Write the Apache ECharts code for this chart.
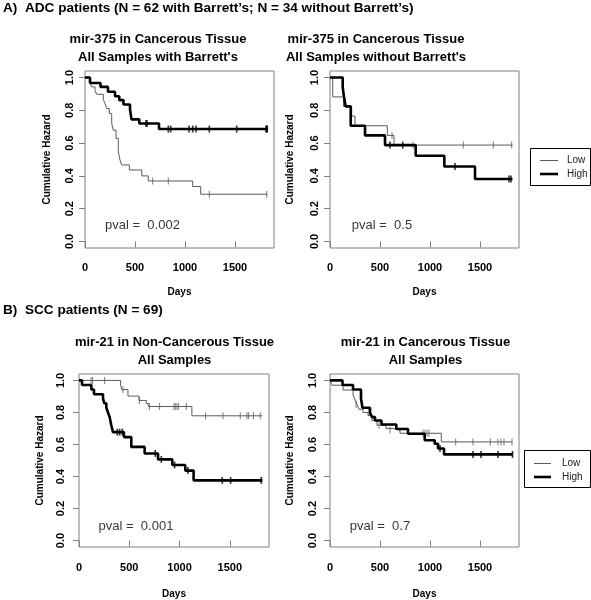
<!DOCTYPE html>
<html><head><meta charset="utf-8">
<script src="https://cdn.jsdelivr.net/npm/echarts@6/dist/echarts.min.js"></script>
<style>html,body{margin:0;padding:0;background:#fff}#c{width:591px;height:600px}</style>
</head><body><div id="c"></div>
<script>
// ---------- data ----------
const xTicks = [0, 500, 1000, 1500];
const yTicks = [0, 0.2, 0.4, 0.6, 0.8, 1.0];
const headerA = "A)  ADC patients (N = 62 with Barrett\u2019s; N = 34 without Barrett\u2019s)";
const headerB = "B)  SCC patients (N = 69)";
const titles = [
  ["mir-375 in Cancerous Tissue", "All Samples with Barrett's"],
  ["mir-375 in Cancerous Tissue", "All Samples without Barrett's"],
  ["mir-21 in Non-Cancerous Tissue", "All Samples"],
  ["mir-21 in Cancerous Tissue", "All Samples"]
];
const pvals = ["pval =  0.002", "pval =  0.5", "pval =  0.001", "pval =  0.7"];
const pvalX = [575, 520, 567, 500];
const pvalY = [0.10, 0.10, 0.088, 0.088];

// Panel 1
const p1LowT = [0, 50, 67, 100, 117, 183, 200, 217, 243, 267, 283, 310, 333, 350, 367, 443, 567, 633, 1077, 1157, 1825];
const p1LowS = [1, 0.967, 0.943, 0.92, 0.898, 0.866, 0.841, 0.811, 0.781, 0.72, 0.679, 0.629, 0.548, 0.497, 0.467, 0.436, 0.40, 0.369, 0.335, 0.288, 0.288];
const p1LowCensT = [677, 833, 1243, 1817];
const p1LowCensS = [0.369, 0.369, 0.288, 0.288];
const p1HighT = [0, 50, 155, 230, 300, 343, 385, 450, 465, 543, 740, 1825];
const p1HighS = [1, 0.967, 0.943, 0.913, 0.886, 0.862, 0.836, 0.805, 0.745, 0.72, 0.686, 0.686];
const p1HighCensT = [610, 620, 833, 857, 1040, 1077, 1110, 1243, 1517, 1810, 1817, 1823];
const p1HighCensS = [0.72, 0.72, 0.686, 0.686, 0.686, 0.686, 0.686, 0.686, 0.686, 0.686, 0.686, 0.686];

// Panel 2
const p2LowT = [0, 27, 135, 217, 250, 573, 640, 1825];
const p2LowS = [1, 0.882, 0.824, 0.765, 0.706, 0.647, 0.588, 0.588];
const p2LowCensT = [620, 830, 1333, 1633, 1817];
const p2LowCensS = [0.647, 0.588, 0.588, 0.588, 0.588];
const p2HighT = [0, 127, 140, 157, 207, 350, 550, 857, 1143, 1450, 1825];
const p2HighS = [1, 0.941, 0.882, 0.824, 0.706, 0.647, 0.588, 0.523, 0.457, 0.381, 0.381];
const p2HighCensT = [600, 727, 1250, 1790, 1810];
const p2HighCensS = [0.588, 0.588, 0.457, 0.381, 0.381];

// Panel 3
const p3LowT = [0, 414, 425, 487, 597, 670, 690, 1123, 1825];
const p3LowS = [1, 0.97, 0.943, 0.902, 0.875, 0.855, 0.837, 0.779, 0.779];
const p3LowCensT = [120, 135, 255, 437, 600, 700, 802, 944, 958, 974, 991, 1067, 1259, 1432, 1604, 1670, 1687, 1736, 1803];
const p3LowCensS = [1, 1, 1, 0.943, 0.875, 0.837, 0.837, 0.837, 0.837, 0.837, 0.837, 0.837, 0.779, 0.779, 0.779, 0.779, 0.779, 0.779, 0.779];
const p3HighT = [0, 30, 123, 149, 239, 252, 272, 288, 305, 321, 338, 447, 520, 653, 786, 928, 1057, 1140, 1825];
const p3HighS = [1, 0.971, 0.943, 0.914, 0.886, 0.857, 0.829, 0.80, 0.771, 0.72, 0.677, 0.646, 0.585, 0.544, 0.507, 0.472, 0.437, 0.376, 0.376];
const p3HighCensT = [381, 404, 431, 759, 819, 951, 1083, 1425, 1508, 1813];
const p3HighCensS = [0.677, 0.677, 0.677, 0.544, 0.507, 0.472, 0.437, 0.376, 0.376, 0.376];

// Panel 4
const p4LowT = [0, 20, 130, 230, 250, 270, 290, 330, 380, 420, 470, 560, 630, 700, 1113, 1825];
const p4LowS = [1, 0.97, 0.94, 0.91, 0.88, 0.85, 0.82, 0.80, 0.78, 0.75, 0.72, 0.70, 0.69, 0.67, 0.616, 0.616];
const p4LowCensT = [260, 390, 490, 600, 930, 950, 970, 990, 1257, 1430, 1603, 1680, 1710, 1740, 1820];
const p4LowCensS = [0.85, 0.80, 0.72, 0.69, 0.67, 0.67, 0.67, 0.67, 0.616, 0.616, 0.616, 0.616, 0.616, 0.616, 0.616];
const p4HighT = [0, 125, 230, 310, 325, 400, 420, 450, 515, 663, 780, 947, 1047, 1080, 1140, 1825];
const p4HighS = [1, 0.971, 0.943, 0.886, 0.829, 0.80, 0.771, 0.75, 0.725, 0.697, 0.667, 0.626, 0.605, 0.575, 0.538, 0.538];
const p4HighCensT = [1100, 1430, 1510, 1680, 1825];
const p4HighCensS = [0.575, 0.538, 0.538, 0.538, 0.538];

// ---------- build ----------
const FONT = '"Liberation Sans", Arial, sans-serif';
const BOX = '#808080';
const LOWC = '#5a5a5a';
const HIGHC = '#000000';
const zip = (a, b) => a.map((v, i) => [v, b[i]]);

const panels = [
  {low: [p1LowT, p1LowS, p1LowCensT, p1LowCensS], high: [p1HighT, p1HighS, p1HighCensT, p1HighCensS]},
  {low: [p2LowT, p2LowS, p2LowCensT, p2LowCensS], high: [p2HighT, p2HighS, p2HighCensT, p2HighCensS]},
  {low: [p3LowT, p3LowS, p3LowCensT, p3LowCensS], high: [p3HighT, p3HighS, p3HighCensT, p3HighCensS]},
  {low: [p4LowT, p4LowS, p4LowCensT, p4LowCensS], high: [p4HighT, p4HighS, p4HighCensT, p4HighCensS]}
];
const grids = [
  {left: 85, top: 71, width: 189, height: 177},
  {left: 330, top: 71, width: 189, height: 177},
  {left: 79, top: 374, width: 190, height: 176},
  {left: 330, top: 374, width: 189, height: 176}
];
const xLabelMargin = [14, 14, 15, 15];
const xNameGap = [39, 39, 42, 42];
const yLabelMargin = [10, 10, 13, 12];
const yNameGap = [33, 35, 34, 35];

const xAxis = [], yAxis = [], series = [];
grids.forEach((g, i) => {
  g.show = true; g.borderColor = BOX; g.borderWidth = 1; g.backgroundColor = 'transparent';
  xAxis.push({
    type: 'value', gridIndex: i, min: 0, max: 1890,
    axisLine: {show: false}, splitLine: {show: false},
    axisTick: {show: true, length: 6, customValues: xTicks, lineStyle: {color: BOX}},
    axisLabel: {customValues: xTicks, margin: xLabelMargin[i], formatter: v => String(v),
      fontFamily: FONT, fontWeight: 'bold', fontSize: 11, color: '#000'},
    name: 'Days', nameLocation: 'middle', nameGap: xNameGap[i],
    nameTextStyle: {fontFamily: FONT, fontWeight: 'bold', fontSize: 10, color: '#000'}
  });
  yAxis.push({
    type: 'value', gridIndex: i, min: -0.04, max: 1.04,
    axisLine: {show: false}, splitLine: {show: false},
    axisTick: {show: true, length: 6, customValues: yTicks, lineStyle: {color: BOX}},
    axisLabel: {customValues: yTicks, rotate: 90, margin: yLabelMargin[i], formatter: v => v.toFixed(1),
      fontFamily: FONT, fontWeight: 'bold', fontSize: 11, color: '#000'},
    name: 'Cumulative Hazard', nameLocation: 'middle', nameGap: yNameGap[i],
    nameTextStyle: {fontFamily: FONT, fontWeight: 'bold', fontSize: 10, color: '#000'}
  });
  const p = panels[i];
  series.push({
    type: 'line', name: 'Low', xAxisIndex: i, yAxisIndex: i, step: 'end', showSymbol: false,
    data: zip(p.low[0], p.low[1]), lineStyle: {color: LOWC, width: 1}, z: 3, silent: true
  });
  series.push({
    type: 'scatter', xAxisIndex: i, yAxisIndex: i, symbol: 'rect', symbolSize: [1, 7],
    data: zip(p.low[2], p.low[3]), itemStyle: {color: LOWC}, z: 3, silent: true
  });
  series.push({
    type: 'line', name: 'High', xAxisIndex: i, yAxisIndex: i, step: 'end', showSymbol: false,
    data: zip(p.high[0], p.high[1]), lineStyle: {color: HIGHC, width: 2.6}, z: 4, silent: true
  });
  series.push({
    type: 'scatter', xAxisIndex: i, yAxisIndex: i, symbol: 'rect', symbolSize: [1.6, 7],
    data: zip(p.high[2], p.high[3]), itemStyle: {color: HIGHC}, z: 4, silent: true
  });
  series.push({
    type: 'scatter', xAxisIndex: i, yAxisIndex: i, symbolSize: 0,
    data: [[pvalX[i], pvalY[i]]], silent: true,
    label: {show: true, position: 'inside', formatter: pvals[i], fontFamily: FONT, fontSize: 13, color: '#000'}
  });
});

const graphic = [];
const T = (x, y, text, font, align) => graphic.push({type: 'text', x: x, y: y, z: 10,
  style: {text: text, font: font, fill: '#000', textAlign: align || 'center', textVerticalAlign: 'middle'}});
T(3, 8, headerA, 'bold 13.6px ' + FONT, 'left');
T(3, 310, headerB, 'bold 13.6px ' + FONT, 'left');
const titleX = [158, 376, 174.5, 425.5];
const titleY = [[39, 57], [39, 57], [342, 360], [342, 360]];
titles.forEach((t, i) => {
  T(titleX[i], titleY[i][0], t[0], 'bold 13px ' + FONT);
  T(titleX[i], titleY[i][1], t[1], 'bold 13px ' + FONT);
});
// legends
const legendBoxes = [
  {x: 530, y: 148, w: 60, h: 37, lx1: 540, lx2: 558, ty: [160, 174], tx: 567},
  {x: 524, y: 450, w: 66, h: 37, lx1: 534, lx2: 551, ty: [463, 477], tx: 562}
];
legendBoxes.forEach(L => {
  graphic.push({type: 'rect', z: 10, shape: {x: L.x + 0.5, y: L.y + 0.5, width: L.w, height: L.h},
    style: {fill: '#fff', stroke: '#000', lineWidth: 1}});
  graphic.push({type: 'line', z: 11, shape: {x1: L.lx1, y1: L.ty[0] + 0.5, x2: L.lx2, y2: L.ty[0] + 0.5},
    style: {stroke: LOWC, lineWidth: 1}});
  graphic.push({type: 'line', z: 11, shape: {x1: L.lx1, y1: L.ty[1], x2: L.lx2, y2: L.ty[1]},
    style: {stroke: HIGHC, lineWidth: 2.6}});
  graphic.push({type: 'text', x: L.tx, y: L.ty[0], z: 11, style: {text: 'Low', font: '10px ' + FONT, fill: '#222', textVerticalAlign: 'middle'}});
  graphic.push({type: 'text', x: L.tx, y: L.ty[1], z: 11, style: {text: 'High', font: '10px ' + FONT, fill: '#222', textVerticalAlign: 'middle'}});
});

const chart = echarts.init(document.getElementById('c'), null, {renderer: 'canvas'});
chart.setOption({
  animation: false,
  backgroundColor: '#fff',
  grid: grids, xAxis: xAxis, yAxis: yAxis, series: series, graphic: graphic
});
</script></body></html>
